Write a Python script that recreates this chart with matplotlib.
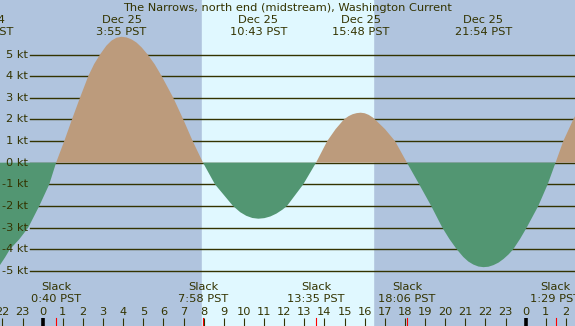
import matplotlib
matplotlib.use("Agg")
import matplotlib.pyplot as plt

# current speed curve [hours from midnight Dec 25, knots]
hours = [-2.12, -1.87, -1.625, -1.17, -0.716, -0.169, 0.328, 0.667,
         1.073, 1.456, 1.853, 2.266, 2.558, 2.850, 3.167, 3.417, 3.667, 3.917,
         4.167, 4.417, 4.667, 4.917, 5.217, 5.565, 5.913, 6.489, 6.986, 7.453, 7.967,
         8.561, 9.456, 9.817, 10.117, 10.417, 10.717, 11.017, 11.317, 11.617, 11.917,
         12.14, 12.949, 13.583,
         14.14, 14.555, 14.97, 15.2, 15.4, 15.6, 15.8, 16.0, 16.2, 16.4, 16.512,
         17.01, 17.506, 18.1,
         18.708, 19.304, 19.856, 20.21, 20.571, 20.9, 21.15, 21.4, 21.65, 21.9,
         22.15, 22.4, 22.65, 22.9, 23.15, 23.384, 23.717, 24.05, 24.626, 25.093, 25.483,
         25.869, 26.366, 26.45]
speed = [-4.73, -4.38, -4.0, -3.55, -3.0, -2.0, -1.0, 0.0,
         1.0, 2.0, 3.0, 4.0, 4.56, 5.0, 5.41, 5.64, 5.775, 5.82,
         5.79, 5.70, 5.55, 5.33, 5.0, 4.55, 4.0, 3.0, 2.0, 1.0, 0.0,
         -1.0, -2.0, -2.29, -2.456, -2.557, -2.59, -2.564, -2.485, -2.353, -2.17,
         -2.0, -1.0, 0.0,
         1.0, 1.55, 2.0, 2.15, 2.24, 2.29, 2.31, 2.285, 2.21, 2.09, 2.0,
         1.55, 1.0, 0.0,
         -1.0, -2.0, -3.0, -3.53, -4.0, -4.36, -4.57, -4.71, -4.80, -4.83,
         -4.81, -4.735, -4.62, -4.45, -4.24, -4.0, -3.53, -3.0, -2.0, -1.0, 0.0,
         1.0, 2.0, 2.15]

# max current events (top labels)
max_hours = [-2.87, 3.917, 10.717, 15.8, 21.9]
max_dates = ["Dec 24", "Dec 25", "Dec 25", "Dec 25", "Dec 25"]
max_times = ["21:08 PST", "3:55 PST", "10:43 PST", "15:48 PST", "21:54 PST"]

# slack events (bottom labels)
slack_hours = [0.667, 7.967, 13.583, 18.1, 25.483]
slack_times = ["0:40 PST", "7:58 PST", "13:35 PST", "18:06 PST", "1:29 PST"]

sunrise, sunset = 7.94, 16.41
kt_levels = [5, 4, 3, 2, 1, 0, -1, -2, -3, -4, -5]
hour_ticks = list(range(-2, 27))

title = "The Narrows, north end (midstream), Washington Current"

W, H = 575, 326
txt = "#333300"
fs = 8.2

fig = plt.figure(figsize=(W / 100, H / 100), dpi=100)
fig.patch.set_facecolor("#B0C4DE")
ax = fig.add_axes([0, 0, 1, 1])
ax.set_facecolor("#B0C4DE")
ax.set_xlim(-2.12, 26.45)
ax.set_ylim(-7.55, 7.52)
ax.axis("off")

def fy(py):
    # pixel row from top -> axes fraction
    return 1 - py / H

xt = ax.get_xaxis_transform()   # x data, y axes
yt = ax.get_yaxis_transform()   # x axes, y data

# daylight band
ax.axvspan(sunrise, sunset, color="#E0F8FF", zorder=0)

# grid lines and labels
for k in kt_levels:
    ax.plot([30 / W, 1], [k, k], transform=yt, color=txt, lw=1.0, zorder=1)
    ax.text(28 / W, k, "%d kt" % k, transform=yt, ha="right", va="center",
            fontsize=fs, color=txt)

# flood / ebb fill
ax.fill_between(hours, speed, 0, where=[s >= 0 for s in speed], interpolate=True,
                color="#BC9B7C", lw=0, zorder=2)
ax.fill_between(hours, speed, 0, where=[s <= 0 for s in speed], interpolate=True,
                color="#529672", lw=0, zorder=2)

# title
ax.text(0.5, fy(8), title, transform=ax.transAxes, ha="center", va="center",
        fontsize=fs, color=txt)

# max current labels
for h, d, t in zip(max_hours, max_dates, max_times):
    ax.text(h, fy(20), d, transform=xt, ha="center", va="center", fontsize=fs, color=txt)
    ax.text(h, fy(32), t, transform=xt, ha="center", va="center", fontsize=fs, color=txt)

# slack labels
for h, t in zip(slack_hours, slack_times):
    ax.text(h, fy(287.5), "Slack", transform=xt, ha="center", va="center", fontsize=fs, color=txt)
    ax.text(h, fy(299), t, transform=xt, ha="center", va="center", fontsize=fs, color=txt)
    ax.plot([h, h], [fy(318), 0], transform=xt, color="red", lw=0.8, zorder=3)

# hour ticks
for h in hour_ticks:
    mid = h % 24 == 0
    ax.plot([h, h], [fy(318), 0], transform=xt, color="black" if mid else txt,
            lw=2.6 if mid else 0.8, zorder=3, solid_capstyle="butt")
    ax.text(h, fy(312), str(h % 24), transform=xt, ha="center", va="center",
            fontsize=fs, color=txt)

fig.savefig("out.png", dpi=100, facecolor=fig.get_facecolor())
